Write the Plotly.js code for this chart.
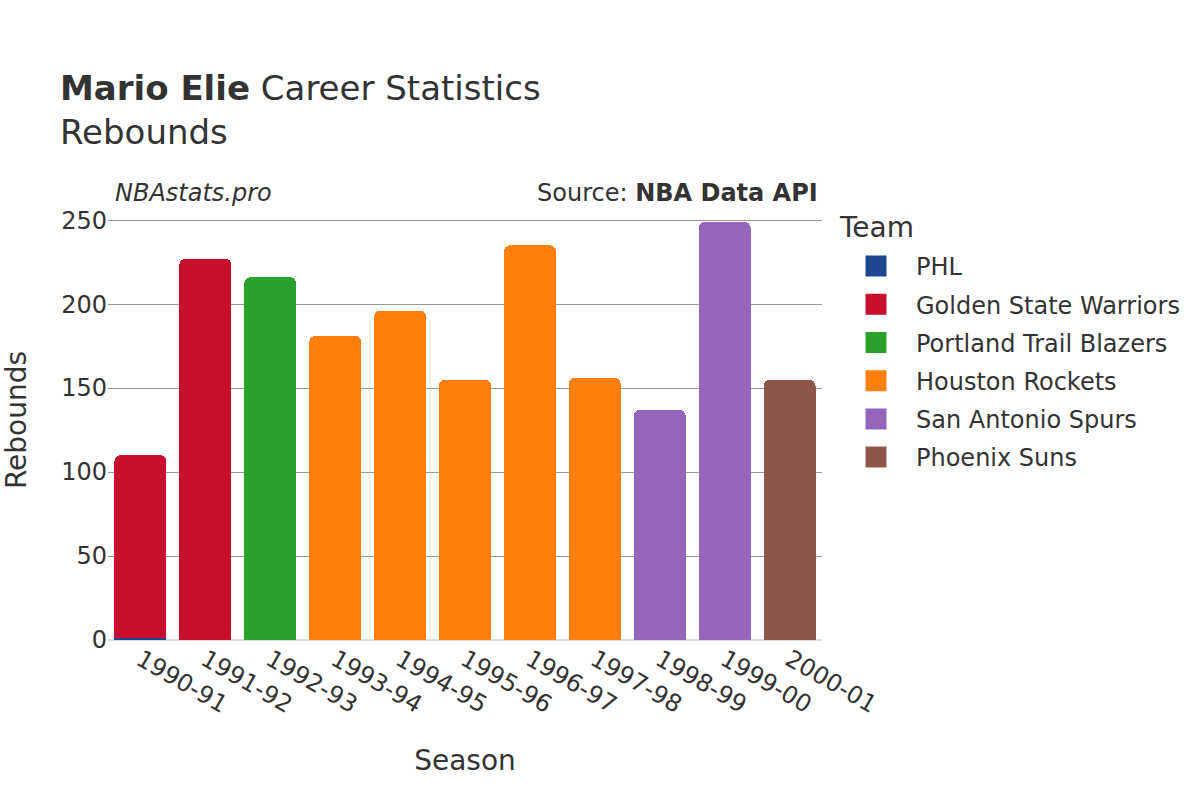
<!DOCTYPE html>
<html>
<head>
<meta charset="utf-8">
<script src="https://cdn.plot.ly/plotly-3.0.1.min.js"></script>
<style>html,body{margin:0;padding:0;background:#fff;}#chart{width:1200px;height:800px;}</style>
</head>
<body>
<div id="chart"></div>
<script>
var seasons = ["1990-91","1991-92","1992-93","1993-94","1994-95","1995-96","1996-97","1997-98","1998-99","1999-00","2000-01"];
var teams = ["PHL","Golden State Warriors","Portland Trail Blazers","Houston Rockets","San Antonio Spurs","Phoenix Suns"];
var teamColors = ["#1f4690","#c8102e","#2ca02c","#ff7f0e","#9467bd","#8c564b"];
var phlSeasons = ["1990-91"];
var phlRebounds = [1];
var gswSeasons = ["1990-91","1991-92"];
var gswRebounds = [109,227];
var porSeasons = ["1992-93"];
var porRebounds = [216];
var houSeasons = ["1993-94","1994-95","1995-96","1996-97","1997-98"];
var houRebounds = [181,196,155,235,156];
var sasSeasons = ["1998-99","1999-00"];
var sasRebounds = [137,249];
var phxSeasons = ["2000-01"];
var phxRebounds = [155];

var xs = [phlSeasons,gswSeasons,porSeasons,houSeasons,sasSeasons,phxSeasons];
var ys = [phlRebounds,gswRebounds,porRebounds,houRebounds,sasRebounds,phxRebounds];
var font = "DejaVu Sans, sans-serif";
var traces = teams.map(function(t,i){
  return {type:"bar", name:t, x:xs[i], y:ys[i], showlegend:false, legendgroup:t,
    marker:{color:teamColors[i], cornerradius:6, line:{width:0}}};
});
// legend entries (larger symbols)
teams.forEach(function(t,i){
  traces.push({type:"scatter", mode:"markers", name:t, legendgroup:t, x:[seasons[0]], y:[null],
    marker:{symbol:"square", size:16, color:teamColors[i], line:{color:teamColors[i], width:5}},
    hoverinfo:"skip"});
});
var layout = {
  width:1200, height:800,
  paper_bgcolor:"#fff", plot_bgcolor:"#fff",
  font:{family:font, color:"#333", size:24},
  barmode:"stack", bargap:0.2,
  margin:{l:108, r:378, t:200, b:160},
  title:{text:"<b>Mario Elie</b> Career Statistics<br>Rebounds", x:0.05, xanchor:"left", y:0.875, yanchor:"top", font:{size:34, family:font, color:"#333"}},
  xaxis:{title:{text:"Season", font:{size:28}, standoff:32}, tickangle:30, categoryorder:"array", categoryarray:seasons, range:[-0.5,10.5], autorange:false, showgrid:false, tickfont:{size:24}},
  yaxis:{title:{text:"Rebounds", font:{size:28}, standoff:27}, range:[0,262], dtick:50, gridcolor:"#999", gridwidth:1, zeroline:true, zerolinecolor:"#ddd", zerolinewidth:2, tickfont:{size:24}},
  legend:{traceorder:"grouped", xref:"paper", x:(836-822)/714 + 1, xanchor:"left", y:0.900, yanchor:"top", font:{size:24}, tracegroupgap:4, itemwidth:70},
  annotations:[
    {text:"<i>NBAstats.pro</i>", xref:"paper", yref:"paper", x:0.007, y:1.0, xanchor:"left", yanchor:"bottom", yshift:-9, showarrow:false, font:{size:24, color:"#333"}},
    {text:"Source: <b>NBA Data API</b>", xref:"paper", yref:"paper", x:1, y:1.0, xanchor:"right", yanchor:"bottom", yshift:-9, xshift:-2, showarrow:false, font:{size:24, color:"#333"}},
    {text:"Team", xref:"paper", yref:"paper", x:1.021, y:1.0, xanchor:"left", yanchor:"middle", yshift:-27, showarrow:false, font:{size:28, color:"#333"}}
  ]
};
Plotly.newPlot("chart", traces, layout, {displayModeBar:false});
</script>
</body>
</html>
